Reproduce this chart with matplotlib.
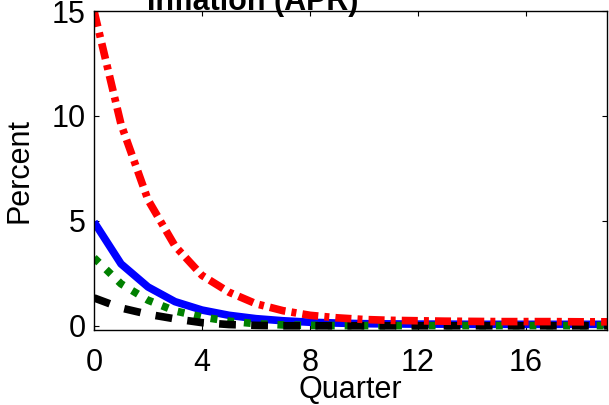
import matplotlib
matplotlib.use("Agg")
import matplotlib.pyplot as plt

plt.rcParams['font.family'] = ['Liberation Sans', 'DejaVu Sans']

# impulse responses, inflation (APR), quarters 0..19
quarters = list(range(20))
blue_solid = [4.95, 2.95, 1.85, 1.15, 0.75, 0.5, 0.34, 0.24, 0.17, 0.13,
              0.1, 0.09, 0.08, 0.08, 0.07, 0.07, 0.07, 0.07, 0.07, 0.07]
green_dot = [3.24, 2.0, 1.22, 0.71, 0.42, 0.22, 0.1, 0.04, 0.02, 0.01,
             0.01, 0.01, 0.01, 0.01, 0.01, 0.01, 0.01, 0.01, 0.01, 0.01]
black_dash = [1.33, 0.85, 0.55, 0.33, 0.15, 0.06, 0.02, 0.0, 0.0, 0.0,
              0.0, 0.0, 0.0, 0.0, 0.0, 0.0, 0.0, 0.0, 0.0, 0.0]
red_dashdot = [15.0, 9.6, 6.0, 3.8, 2.4, 1.6, 1.05, 0.72, 0.5, 0.38,
               0.3, 0.26, 0.24, 0.22, 0.21, 0.2, 0.2, 0.2, 0.19, 0.19]

xticks = [0, 4, 8, 12, 16]
yticks = [0, 5, 10, 15]

fig = plt.figure(figsize=(6.09, 4.05), dpi=100)
ax = fig.add_axes([0.1544, 0.1852, 0.8423, 0.7876])

lw = 5.5
ax.plot(quarters, blue_solid, color='blue', lw=lw, solid_capstyle='butt')
ax.plot(quarters, green_dot, color=(0, 0.5, 0), lw=lw, dashes=(0.9, 1.3),
        dash_capstyle='butt')
ax.plot(quarters, black_dash, color='black', lw=lw, dashes=(2.2, 2.0),
        dash_capstyle='butt')
ax.plot(quarters, red_dashdot, color='red', lw=lw,
        dashes=(2.1, 0.8, 0.65, 0.8), dash_capstyle='butt')

ax.set_xlim(0, 19)
ax.set_ylim(-0.2, 15)
ax.set_xticks(xticks)
ax.set_yticks(yticks)
ax.tick_params(direction='in', length=3.6, width=0.8, top=True, right=True,
               labelsize=22)
ax.tick_params(axis='x', pad=13)
ax.tick_params(axis='y', pad=6)
for s in ax.spines.values():
    s.set_linewidth(1.0)

ax.set_xlabel('Quarter', fontsize=22, labelpad=-2)
ax.set_ylabel('Percent', fontsize=22, labelpad=12)
ax.text(0.309, 1.003, 'Inflation (APR)', transform=ax.transAxes,
        ha='center', va='baseline', fontsize=22, fontweight='bold')

fig.savefig('out.png', dpi=100)
